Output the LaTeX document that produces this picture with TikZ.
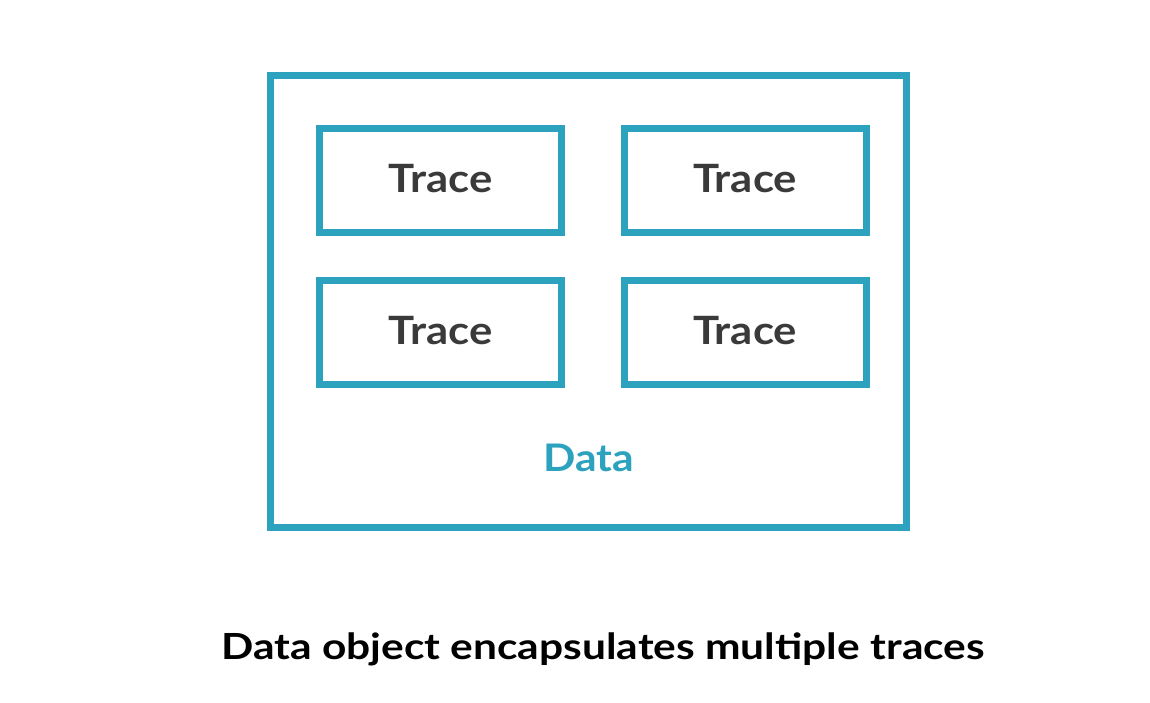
\documentclass[tikz,border=0pt]{standalone}
\usepackage{fontspec}
\setmainfont{Lato}
\newfontfamily\widelato[FakeStretch=1.12]{Lato}
\newfontfamily\capfont[FakeStretch=1.18]{Lato}
\definecolor{teal}{HTML}{2CA2BE}
\definecolor{txt}{HTML}{3A3A3A}
\tikzset{
  tracebox/.style={draw=teal, line width=7pt, minimum width=242pt, minimum height=104pt, inner sep=0pt},
  tracelabel/.style={anchor=base, text=txt, font=\widelato\fontsize{39}{44}\selectfont\bfseries, inner sep=0pt},
}
\begin{document}
\begin{tikzpicture}[x=1pt,y=-1pt]
\useasboundingbox (0,0) rectangle (1150,702);
\node[draw=teal, line width=7pt, minimum width=636pt, minimum height=452pt, inner sep=0pt] (data) at (588.5,301.5) {};
\node[tracebox] (t1) at (440.5,180) {};
\node[tracebox] (t2) at (745,180) {};
\node[tracebox] (t3) at (440.5,332.5) {};
\node[tracebox] (t4) at (745,332.5) {};
\node[tracelabel] (l1) at (440.5,192) {Trace};
\node[tracelabel] (l2) at (745,192) {Trace};
\node[tracelabel] (l3) at (440.5,344.5) {Trace};
\node[tracelabel] (l4) at (745,344.5) {Trace};
\node[anchor=base, text=teal, font=\widelato\fontsize{38}{44}\selectfont\bfseries, inner sep=0pt] (dl) at (589,471) {Data};
\node[anchor=base, text=black, font=\capfont\fontsize{36}{42}\selectfont\bfseries, inner sep=0pt] (cap) at (603,659) {Data object encapsulates multiple traces};
\end{tikzpicture}
\end{document}
